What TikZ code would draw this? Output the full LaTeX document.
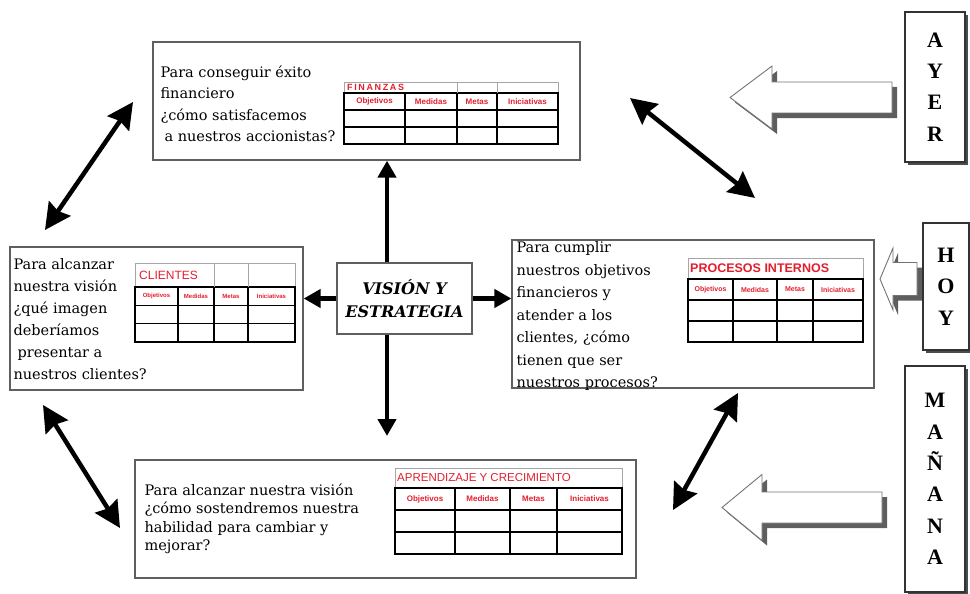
\documentclass[tikz,border=0pt]{standalone}
\usepackage{fontspec}
\setmainfont{DejaVu Serif}
\setsansfont{Liberation Sans}
\newfontfamily\timesbold{Liberation Serif}
\usetikzlibrary{shadows, arrows.meta, positioning, calc}
\definecolor{bscred}{RGB}{226,30,45}
\definecolor{boxgray}{RGB}{95,95,95}

% columns #1..#5, title top #6, header top #7, row height #8, name prefix #9
\newcommand{\bsctable}[9]{%
  \draw[titlerule] (#1,#6) rectangle (#5,#7);
  \draw[gridrule] (#1,#7) rectangle (#5,{#7+3*#8});
  \foreach \r in {1,2}
    \draw[gridrule] (#1,{#7+\r*#8}) -- (#5,{#7+\r*#8});
  \foreach \c in {#2,#3,#4}
    \draw[gridrule] (\c,#7) -- (\c,{#7+3*#8});
  \node[headtext] (#9obj) at ({(#1+#2)/2},{#7+#8/2}) {Objetivos};
  \node[headtext] (#9med) at ({(#2+#3)/2},{#7+#8/2}) {Medidas};
  \node[headtext] (#9met) at ({(#3+#4)/2},{#7+#8/2}) {Metas};
  \node[headtext] (#9ini) at ({(#4+#5)/2},{#7+#8/2}) {Iniciativas};
}
% tip x, y, head length, head half width, shaft half width, tail x
\newcommand{\fatarrow}[6]{%
  \draw[blockarrow] (#1,#2) -- ++(#3,-#4) -- ++(0,{#4-#5}) -- (#6,{#2-#5})
    -- (#6,{#2+#5}) -- ({#1+#3},{#2+#5}) -- ++(0,{#4-#5}) -- cycle;
}

\begin{document}
\begin{tikzpicture}[x=1pt, y=-1pt,
    persp/.style={draw=boxgray, line width=1.3pt, inner sep=0pt},
    qtext/.style={anchor=north west, inner sep=0pt, align=left},
    titlerule/.style={draw=black!35, line width=0.8pt},
    gridrule/.style={draw=black, line width=1.6pt},
    headtext/.style={text=bscred, inner sep=0pt, font=\sffamily},
    titletext/.style={text=bscred, inner sep=0pt, anchor=west, font=\sffamily},
    timebox/.style={draw=black!80, fill=white, line width=1.2pt, inner sep=0pt, align=center,
      drop shadow={shadow xshift=3pt, shadow yshift=-3pt, fill=black!70, opacity=1},
      font=\timesbold\bfseries\fontsize{22}{31.4}\selectfont},
    blockarrow/.style={draw=black!55, fill=white, line width=0.9pt,
      drop shadow={shadow xshift=5pt, shadow yshift=-5pt, fill=black!70, opacity=.9}},
    thickarrow/.style={line width=4.5pt, -{Triangle[length=17pt, width=18pt]}},
    dblarrow/.style={line width=4.5pt, {Stealth[length=26pt, width=26pt, inset=3pt]}-{Stealth[length=26pt, width=26pt, inset=3pt]}}]
  \useasboundingbox (0,0) rectangle (970,594);

  % the four perspectives
  \node[persp, minimum width=427pt, minimum height=118pt] (fin) at (366.5,101) {};
  \node[persp, minimum width=293pt, minimum height=143pt] (cli) at (156.5,318.5) {};
  \node[persp, minimum width=362pt, minimum height=148pt] (pro) at (693,314) {};
  \node[persp, minimum width=501pt, minimum height=118pt] (apr) at (385.5,519) {};
  \node[persp, minimum width=135pt, minimum height=71pt, align=center,
        font=\bfseries\itshape\fontsize{16}{23}\selectfont] (vis) at (404.5,298.5) {VISIÓN Y\\ESTRATEGIA};

  \node[qtext, below right=24pt and 8pt of fin.north west, font=\fontsize{14.5}{21.5}\selectfont] (fintext)
    {Para conseguir éxito\\financiero\\¿cómo satisfacemos\\\hspace{4pt}a nuestros accionistas?};
  \node[qtext, below right=12pt and 4pt of cli.north west, font=\fontsize{14.5}{22}\selectfont] (clitext)
    {Para alcanzar\\nuestra visión\\¿qué imagen\\deberíamos\\\hspace{4pt}presentar a\\nuestros clientes?};
  \node[qtext, below right=2pt and 5pt of pro.north west, font=\fontsize{14.5}{22.5}\selectfont] (protext)
    {Para cumplir\\nuestros objetivos\\financieros y\\atender a los\\clientes, ¿cómo\\tienen que ser\\nuestros procesos?};
  \node[qtext, below right=24pt and 10pt of apr.north west, font=\fontsize{14.5}{18.5}\selectfont] (aprtext)
    {Para alcanzar nuestra visión\\¿cómo sostendremos nuestra\\habilidad para cambiar y\\mejorar?};

  % tables
  \begin{scope}[headtext/.append style={font=\sffamily\bfseries\fontsize{8}{8}\selectfont}]
    \bsctable{344}{405}{457}{497}{558}{82}{93}{17}{fin}
    \draw[titlerule] (457,82) -- (457,93) (497,82) -- (497,93);
  \end{scope}
  \node[titletext, font=\sffamily\bfseries\fontsize{9}{9}\selectfont\addfontfeature{LetterSpace=18}] (fintitle) at (347,87.5) {FINANZAS};

  \begin{scope}[headtext/.append style={font=\sffamily\bfseries\fontsize{6}{6}\selectfont}]
    \bsctable{135}{178}{214}{248}{295}{263}{287}{18.3}{cli}
    \draw[titlerule] (214,263) -- (214,287) (248,263) -- (248,287);
  \end{scope}
  \node[titletext, font=\sffamily\fontsize{12}{12}\selectfont] (clititle) at (139,275) {CLIENTES};

  \begin{scope}[headtext/.append style={font=\sffamily\bfseries\fontsize{7}{7}\selectfont}]
    \bsctable{688}{733}{777}{813}{863}{258}{279}{21}{pro}
  \end{scope}
  \node[titletext, font=\sffamily\bfseries\fontsize{12.5}{12.5}\selectfont] (protitle) at (690,268.5) {PROCESOS INTERNOS};

  \begin{scope}[headtext/.append style={font=\sffamily\bfseries\fontsize{8}{8}\selectfont}]
    \bsctable{395}{455}{510}{557}{622}{468}{488}{22}{apr}
  \end{scope}
  \node[titletext, font=\sffamily\fontsize{11.5}{11.5}\selectfont] (aprtitle) at (397,478) {APRENDIZAJE Y CRECIMIENTO};

  % arrows round the vision
  \coordinate (vx) at (387,0);
  \coordinate (downend) at (387,436);
  \draw[thickarrow] (vx |- vis.north) -- (vx |- fin.south);
  \draw[thickarrow] (vx |- vis.south) -- (downend);
  \draw[thickarrow] (vis.west) -- (vis.west -| cli.east);
  \draw[thickarrow] (vis.east) -- (vis.east -| pro.west);

  \coordinate (d1a) at (45,230);  \coordinate (d1b) at (133,102);
  \coordinate (d2a) at (630,98);  \coordinate (d2b) at (755,198);
  \coordinate (d3a) at (43,405);  \coordinate (d3b) at (120,528);
  \coordinate (d4a) at (673,510); \coordinate (d4b) at (738,393);
  \draw[dblarrow] (d1a) -- (d1b);
  \draw[dblarrow] (d2a) -- (d2b);
  \draw[dblarrow] (d3a) -- (d3b);
  \draw[dblarrow] (d4a) -- (d4b);

  % time labels
  \fatarrow{730}{97.5}{42}{31.5}{15.5}{892}
  \fatarrow{880}{279}{13}{31}{16.5}{917}
  \fatarrow{722}{507.5}{40}{33}{15.5}{882}
  \node[timebox, minimum width=60pt, minimum height=150pt] (ayer) at (935,87) {A\\Y\\E\\R};
  \node[timebox, minimum width=46pt, minimum height=127pt] (hoy) at (946,286.5) {H\\O\\Y};
  \node[timebox, minimum width=60pt, minimum height=226pt] (manana) at (935,479) {M\\A\\Ñ\\A\\N\\A};
\end{tikzpicture}
\end{document}
